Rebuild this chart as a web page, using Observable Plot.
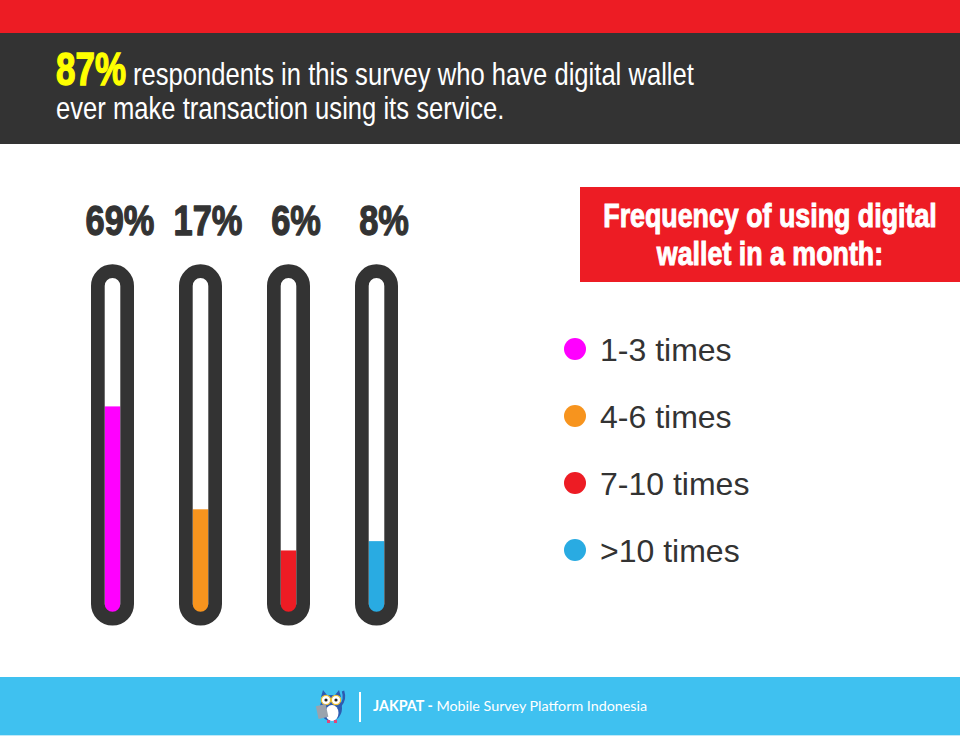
<!DOCTYPE html>
<html><head><meta charset="utf-8">
<script src="https://cdn.jsdelivr.net/npm/d3@7"></script>
<script src="https://cdn.jsdelivr.net/npm/@observablehq/plot@0.6"></script>
<style>
html,body{margin:0;padding:0;background:#fff;}
#page{position:relative;width:960px;height:736px;overflow:hidden;}
#deco{position:absolute;left:0;top:0;}
#chart{position:absolute;left:0;top:144px;}
</style></head><body>
<div id="page"><svg id="deco" width="960" height="736"></svg><div id="chart"></div></div>
<script>
// ---- data ----
const categories = ["1-3 times", "4-6 times", "7-10 times", ">10 times"];
const shares = [69, 17, 6, 8];
const colors = ["#FF00FF", "#F7941E", "#ED1C24", "#29ABE2"];
const trackMax = 183;           // value at the top of each tube (sqrt scale)
const headlineShare = 87;
const headlineRest = ["respondents in this survey who have digital wallet", "ever make transaction using its service."];
const legendTitle = ["Frequency of using digital", "wallet in a month:"];
const footerBrand = "JAKPAT -";
const footerText = " Mobile Survey Platform Indonesia";

const SANS = "'Liberation Sans', Arial, Helvetica, sans-serif";

// condensed text: a horizontally scaled group anchored at (x, y)
function condText(parent, x, y, factor) {
  const g = parent.append("g").attr("transform", `translate(${x},${y}) scale(${factor},1)`);
  return g.append("text").attr("x", 0).attr("y", 0);
}

// ---- decoration ----
const deco = d3.select("#deco");
deco.append("rect").attr("x",0).attr("y",0).attr("width",960).attr("height",33).attr("fill","#ED1C24");
deco.append("rect").attr("x",0).attr("y",33).attr("width",960).attr("height",111).attr("fill","#333333");
condText(deco, 56, 85, 0.76).text(headlineShare + "%").attr("fill","#FFFF00")
  .attr("font-family",SANS).attr("font-weight","bold").attr("font-size",46)
  .attr("stroke","#FFFF00").attr("stroke-width",1.4);
condText(deco, 133, 85, 0.84).text(headlineRest[0]).attr("fill","#fff")
  .attr("font-family",SANS).attr("font-size",30.5);
condText(deco, 56, 119, 0.84).text(headlineRest[1]).attr("fill","#fff")
  .attr("font-family",SANS).attr("font-size",30.5);

// legend title box
deco.append("rect").attr("x",580).attr("y",187).attr("width",380).attr("height",95).attr("fill","#ED1C24");
legendTitle.forEach((t,i)=>{
  condText(deco, 770, [227,265][i], 0.8).attr("text-anchor","middle")
    .text(t).attr("fill","#fff").attr("font-family",SANS).attr("font-weight","bold")
    .attr("font-size",33.5).attr("stroke","#fff").attr("stroke-width",1);
});
// legend items
categories.forEach((c,i)=>{
  const cy = 349 + i*67;
  deco.append("circle").attr("cx",575).attr("cy",cy).attr("r",11).attr("fill",colors[i]);
  deco.append("text").attr("x",600).attr("y",cy+11.5).text(c).attr("fill","#333")
    .attr("font-family",SANS).attr("font-size",32);
});

// footer
deco.append("rect").attr("x",0).attr("y",677).attr("width",960).attr("height",59).attr("fill","#3FC1F0");
deco.append("rect").attr("x",0).attr("y",735).attr("width",960).attr("height",1).attr("fill","#BFE9F8");
deco.append("rect").attr("x",359).attr("y",692).attr("width",2).attr("height",30).attr("fill","#fff");
const ft = deco.append("text").attr("x",373).attr("y",711).attr("fill","#fff")
  .attr("font-family","Lato, 'Open Sans', sans-serif").attr("font-size",14.3);
ft.append("tspan").text(footerBrand).attr("font-weight","bold");
ft.append("tspan").text(footerText);
// owl logo
const owl = deco.append("g");
owl.append("path").attr("d","M340 706 Q346 700 343 691").attr("stroke","#2D5BB0").attr("stroke-width",2.5).attr("fill","none");
owl.append("ellipse").attr("cx",331).attr("cy",708).attr("rx",11).attr("ry",13).attr("fill","#2D5BB0");
owl.append("path").attr("d","M321 697 L323 690 L327 695 Z M341 697 L339 690 L335 695 Z").attr("fill","#2D5BB0");
owl.append("ellipse").attr("cx",332).attr("cy",713).attr("rx",6.5).attr("ry",8).attr("fill","#fff");
[326,336].forEach(x=>{
  owl.append("circle").attr("cx",x).attr("cy",700).attr("r",4.6).attr("fill","#fff").attr("stroke","#F2C230").attr("stroke-width",1.2);
  owl.append("circle").attr("cx",x).attr("cy",700).attr("r",1.6).attr("fill","#222");
});
owl.append("rect").attr("x",317).attr("y",705).attr("width",10).attr("height",13).attr("fill","#9AA3AD")
  .attr("transform","rotate(-12 322 711)");
owl.append("rect").attr("x",327).attr("y",720).attr("width",3).attr("height",3).attr("fill","#E0457B");
owl.append("rect").attr("x",334).attr("y",720).attr("width",3).attr("height",3).attr("fill","#E0457B");

// ---- chart ----
const data = categories.map((c,i)=>({category:c, share:shares[i], color:colors[i]}));
const chart = Plot.plot({
  width: 480, height: 534,
  marginTop: 90, marginLeft: 0, marginRight: 0, marginBottom: 0,
  style: {background: "transparent"},
  x: {type: "band", domain: categories, range: [90, 398.8], paddingInner: 0.51, paddingOuter: 0, axis: null},
  y: {type: "sqrt", domain: [0, trackMax], range: [466.7, 134], axis: null},
  marks: [
    Plot.barY(data, {x: "category", y1: d => 0, y2: "share", fill: "color",
      insetLeft: 13.7, insetRight: 13.7, insetBottom: -4}),
    Plot.barY(data, {x: "category", y1: d => 0, y2: d => trackMax, fill: "none",
      stroke: "#333333", strokeWidth: 13.7, insetLeft: 6.85, insetRight: 6.85,
      insetTop: -6.85, insetBottom: -8, rx: 14.8}),
    Plot.text(data, {x: "category", text: d => d.share + "%", frameAnchor: "top", lineAnchor: "bottom",
      dx: 7, fontSize: 43, fontWeight: "bold", fontFamily: SANS, fill: "#333333",
      stroke: "#333333", strokeWidth: 1.3})
  ]
});
document.getElementById("chart").appendChild(chart);
// condense the value labels like the poster's display face
chart.querySelectorAll('g[aria-label="text"] text').forEach(t => {
  const tr = t.getAttribute("transform") || "";
  t.setAttribute("transform", (tr + " scale(0.8,1)").trim());
});
</script>
</body></html>
